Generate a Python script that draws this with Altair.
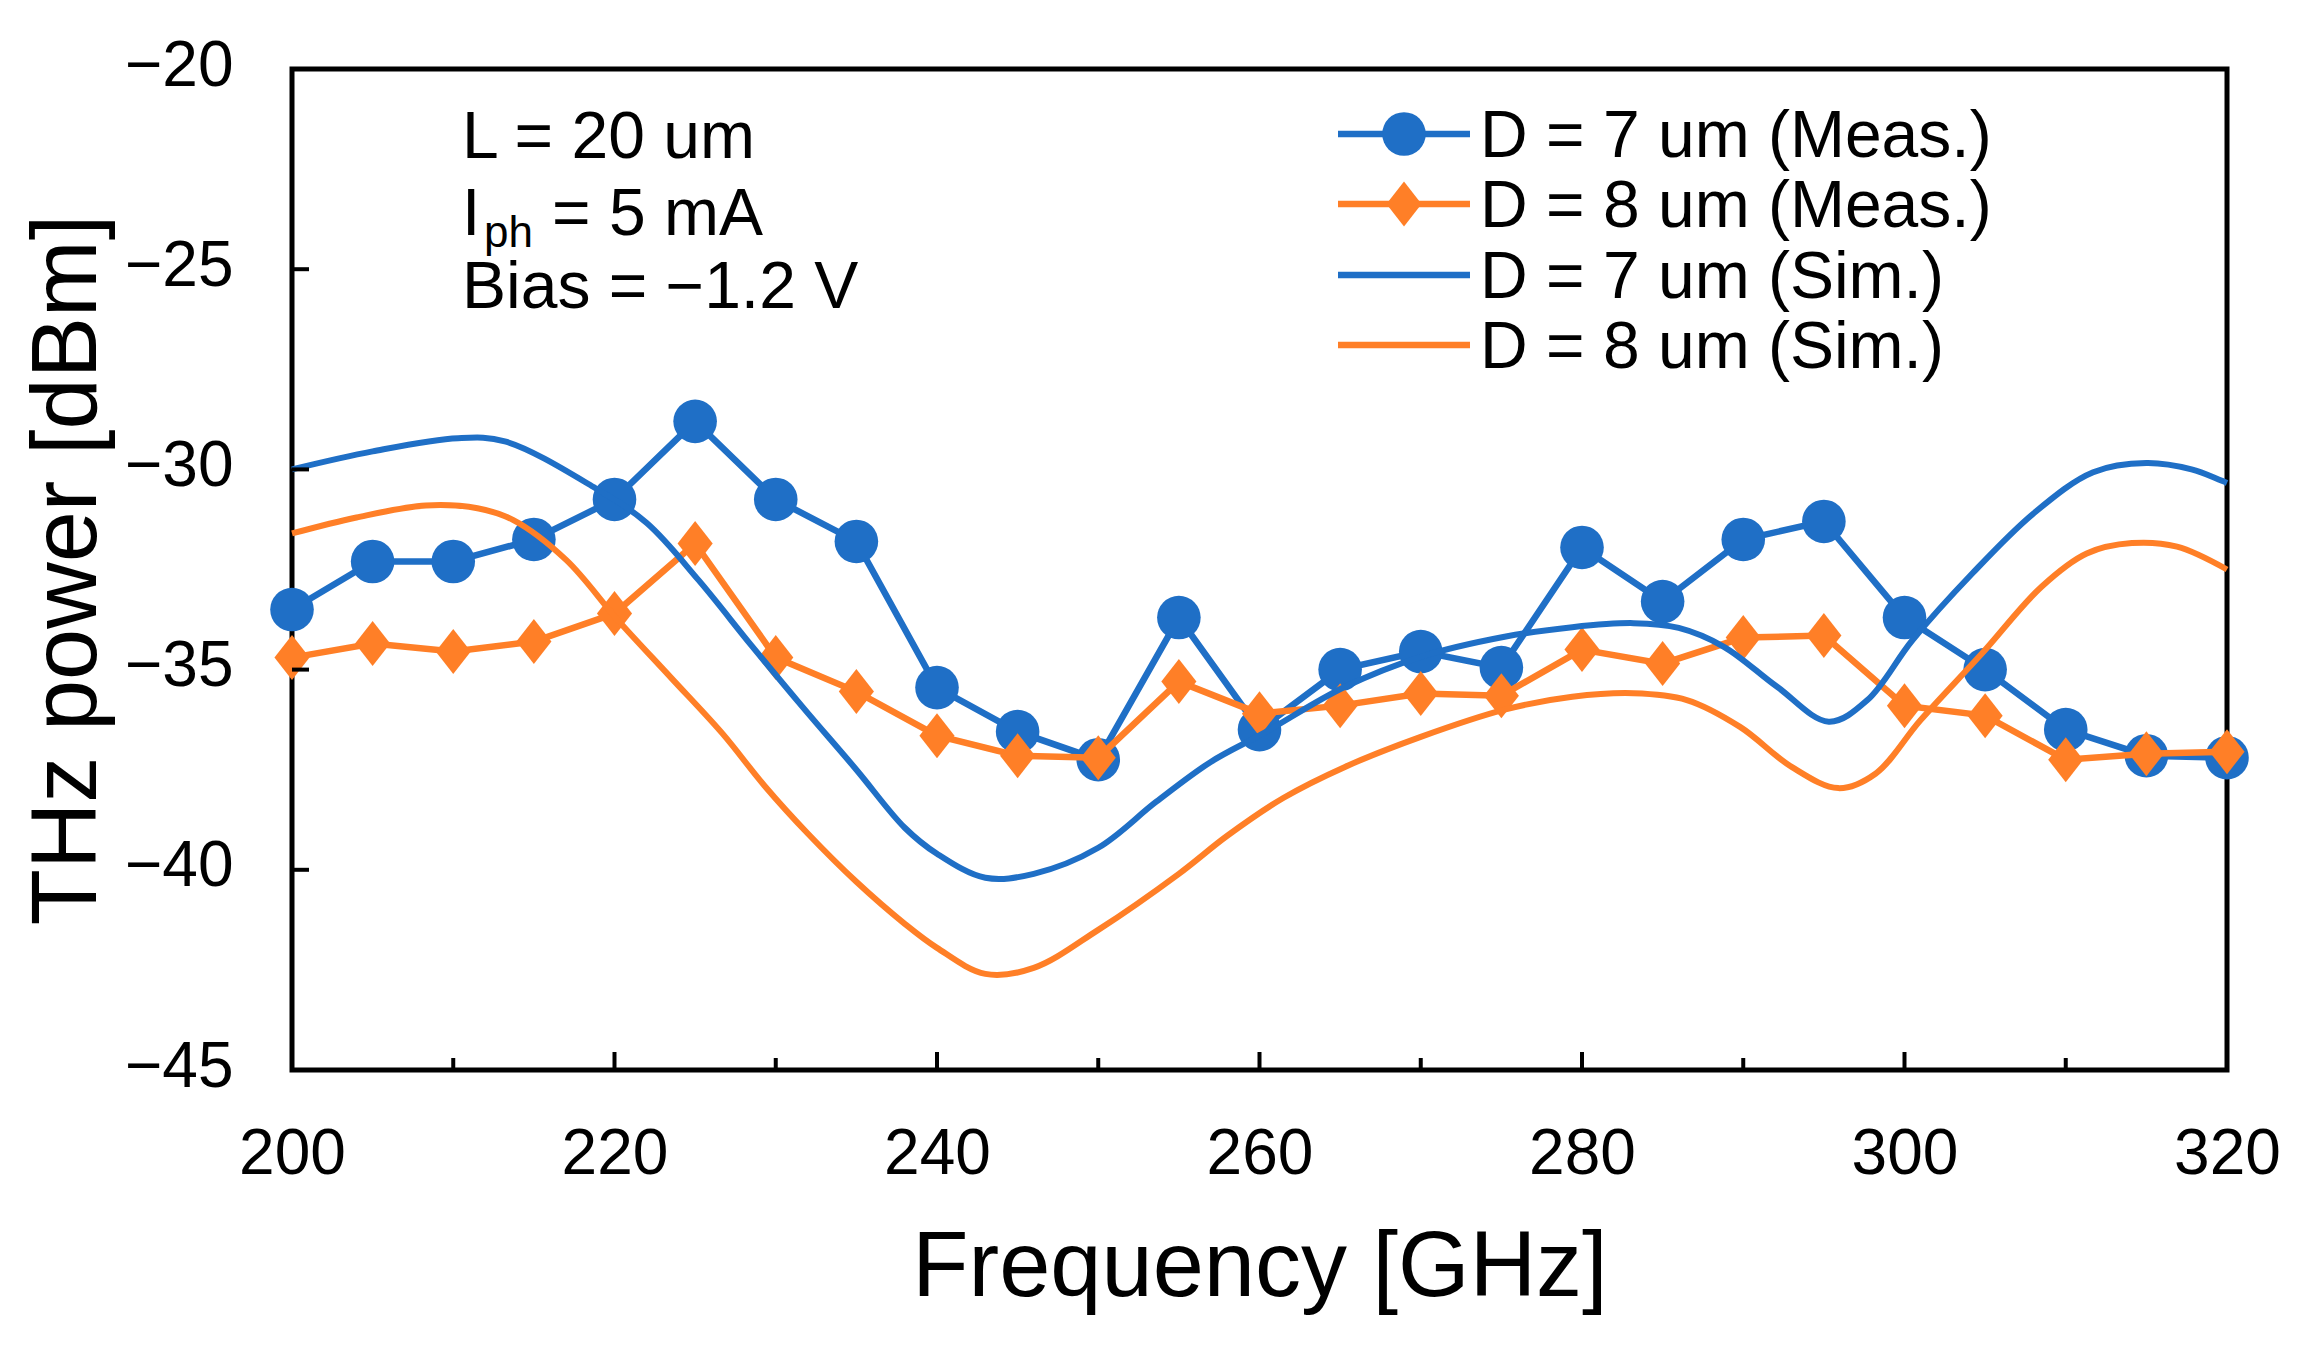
import altair as alt
import pandas as pd

# ---------------- data ----------------
freq_meas = [200, 205, 210, 215, 220, 225, 230, 235, 240, 245, 250, 255, 260,
             265, 270, 275, 280, 285, 290, 295, 300, 305, 310, 315, 320]
meas_d7 = [-33.5, -32.3, -32.3, -31.75, -30.75, -28.8, -30.75, -31.8, -35.45, -36.55,
           -37.25, -33.7, -36.5, -35.0, -34.55, -34.95, -31.95, -33.3, -31.75, -31.3,
           -33.7, -35.0, -36.5, -37.15, -37.2]
meas_d8 = [-34.7, -34.35, -34.55, -34.3, -33.6, -31.85, -34.7, -35.55, -36.65, -37.15,
           -37.2, -35.3, -36.1, -35.9, -35.6, -35.65, -34.5, -34.85, -34.2, -34.15,
           -35.9, -36.15, -37.25, -37.1, -37.05]

sim7_f = [200, 205, 210.3, 213.2, 218.7, 222, 225.2, 228.5, 231.7, 235, 238, 240,
          243, 246, 250, 253.6, 257, 260.2, 265.3, 270, 275.2, 279.4, 283.2, 286,
          288.8, 292.1, 295.3, 297.7, 300.5, 304.2, 308, 311.7, 315, 317.8, 320]
sim7_v = [-30.0, -29.55, -29.22, -29.3, -30.44, -31.34, -32.76, -34.4, -35.95, -37.5,
          -38.95, -39.6, -40.2, -40.1, -39.45, -38.3, -37.3, -36.6, -35.43, -34.68,
          -34.18, -33.94, -33.84, -33.96, -34.43, -35.43, -36.3, -35.76, -34.26, -32.6,
          -31.1, -30.07, -29.84, -30.0, -30.34]

sim8_f = [200, 204, 208.3, 211.5, 213.7, 217, 220.2, 223.5, 226.7, 229.3, 232, 235,
          238, 240, 243, 246, 250, 255, 258, 261.5, 265.3, 270, 275.2, 279.4, 283.2,
          286.5, 289.8, 293, 295.9, 298.2, 301, 304.8, 308.5, 311.3, 314.1, 316.9, 320]
sim8_v = [-31.6, -31.2, -30.9, -30.97, -31.26, -32.26, -33.76, -35.2, -36.6, -37.9,
          -39.1, -40.3, -41.35, -41.95, -42.6, -42.45, -41.5, -40.1, -39.15, -38.2,
          -37.43, -36.68, -36.0, -35.68, -35.59, -35.76, -36.43, -37.43, -37.96, -37.6,
          -36.26, -34.6, -32.93, -32.1, -31.84, -31.93, -32.5]

x_label_ticks = [200, 220, 240, 260, 280, 300, 320]
x_major_inner = [220, 240, 260, 280, 300]
x_minor_inner = [210, 230, 250, 270, 290, 310]
y_label_ticks = [-45, -40, -35, -30, -25, -20]
y_inner_ticks = [-40, -35, -30, -25]

legend_labels = ["D = 7 um (Meas.)", "D = 8 um (Meas.)", "D = 7 um (Sim.)", "D = 8 um (Sim.)"]
note_lines = ["L = 20 um", "I", "ph", "= 5 mA", "Bias = \u22121.2 V"]

# ---------------- style ----------------
BLUE = "#1F6FC6"
ORANGE = "#FF7F27"
FONT = "Liberation Sans"
W, H = 1935, 1001
DIAMOND = "M0,-1L0.78,0L0,1L-0.78,0Z"
CIRCLE_SIZE = 1900
DIAMOND_SIZE = 2025
TXT = 66

xscale = alt.Scale(domain=[200, 320], nice=False, zero=False)
yscale = alt.Scale(domain=[-45, -20], nice=False, zero=False)

m7 = pd.DataFrame({"f": freq_meas, "v": meas_d7})
m8 = pd.DataFrame({"f": freq_meas, "v": meas_d8})
s7 = pd.DataFrame({"f": sim7_f, "v": sim7_v})
s8 = pd.DataFrame({"f": sim8_f, "v": sim8_v})

x_axis = alt.Axis(values=x_label_ticks, format="d", labelFont=FONT, labelFontSize=64,
                  labelColor="black", labelPadding=103, labelBaseline="alphabetic",
                  ticks=False, tickSize=0, domain=False, grid=False,
                  title="Frequency [GHz]", titleFont=FONT, titleFontSize=92,
                  titleFontWeight="normal", titleColor="black", titleBaseline="alphabetic",
                  titleX=W / 2, titleY=225, titleAlign="center", labelFlush=False)
y_axis = alt.Axis(values=y_label_ticks, format="d", labelFont=FONT, labelFontSize=64,
                  labelColor="black", labelPadding=59, labelAlign="right",
                  labelBaseline="middle", labelOffset=-3,
                  labelExpr="replace(datum.label, '-', '\u2212')",
                  ticks=False, tickSize=0, domain=False, grid=False,
                  title="THz power [dBm]", titleFont=FONT, titleFontSize=92,
                  titleFontWeight="normal", titleColor="black", titleBaseline="alphabetic",
                  titleAngle=270, titleX=-197, titleY=H / 2, titleAlign="center",
                  labelFlush=False)

X = alt.X("f:Q", scale=xscale, axis=x_axis)
Y = alt.Y("v:Q", scale=yscale, axis=y_axis)

line_m7 = alt.Chart(m7).mark_line(color=BLUE, strokeWidth=6.5).encode(x=X, y=Y)
pts_m7 = alt.Chart(m7).mark_point(shape="circle", filled=True, opacity=1, color=BLUE,
                                  size=CIRCLE_SIZE).encode(x=X, y=Y)
line_m8 = alt.Chart(m8).mark_line(color=ORANGE, strokeWidth=6.5).encode(x=X, y=Y)
pts_m8 = alt.Chart(m8).mark_point(shape=DIAMOND, filled=True, opacity=1, color=ORANGE,
                                  size=DIAMOND_SIZE).encode(x=X, y=Y)
line_s7 = alt.Chart(s7).mark_line(color=BLUE, strokeWidth=6,
                                  interpolate="catmull-rom").encode(x=X, y=Y)
line_s8 = alt.Chart(s8).mark_line(color=ORANGE, strokeWidth=6,
                                  interpolate="catmull-rom").encode(x=X, y=Y)

# inward ticks
tick_x_major = alt.Chart(pd.DataFrame({"f": x_major_inner})).mark_rule(
    color="black", strokeWidth=4).encode(x=X, y=alt.value(H), y2=alt.value(H - 18))
tick_x_minor = alt.Chart(pd.DataFrame({"f": x_minor_inner})).mark_rule(
    color="black", strokeWidth=4).encode(x=X, y=alt.value(H), y2=alt.value(H - 12))
tick_y = alt.Chart(pd.DataFrame({"v": y_inner_ticks})).mark_rule(
    color="black", strokeWidth=4).encode(y=Y, x=alt.value(0), x2=alt.value(17))

# annotation text
def txt(s, x, y, size=TXT):
    return alt.Chart(pd.DataFrame({"a": [0]})).mark_text(
        font=FONT, fontSize=size, align="left", baseline="alphabetic", color="black"
    ).encode(x=alt.value(x), y=alt.value(y), text=alt.value(s))

notes = [
    txt(note_lines[0], 170, 89),
    txt(note_lines[1], 170, 166),
    txt(note_lines[2], 192, 178, 44),
    txt(note_lines[3], 260, 166),
    txt(note_lines[4], 170, 239),
]

# legend
LX1, LX2, LMX, LTX = 1046, 1178, 1112, 1188
rows = [65, 135, 206, 276]
colors = [BLUE, ORANGE, BLUE, ORANGE]
legend_layers = []
for i, (lab, c, ry) in enumerate(zip(legend_labels, colors, rows)):
    legend_layers.append(
        alt.Chart(pd.DataFrame({"a": [0]})).mark_rule(color=c, strokeWidth=6.5).encode(
            x=alt.value(LX1), x2=alt.value(LX2), y=alt.value(ry)))
    if i == 0:
        legend_layers.append(
            alt.Chart(pd.DataFrame({"a": [0]})).mark_point(
                shape="circle", filled=True, opacity=1, color=c, size=CIRCLE_SIZE
            ).encode(x=alt.value(LMX), y=alt.value(ry)))
    if i == 1:
        legend_layers.append(
            alt.Chart(pd.DataFrame({"a": [0]})).mark_point(
                shape=DIAMOND, filled=True, opacity=1, color=c, size=DIAMOND_SIZE
            ).encode(x=alt.value(LMX), y=alt.value(ry)))
    legend_layers.append(txt(lab, LTX, ry + 23))

chart = alt.layer(
    line_m7, pts_m7, line_m8, pts_m8, line_s7, line_s8,
    tick_x_major, tick_x_minor, tick_y,
    *notes, *legend_layers
).properties(
    width=W, height=H,
    autosize=alt.AutoSizeParams(type="none"),
    padding={"left": 284, "top": 61, "right": 70, "bottom": 270},
    background="white",
).configure_view(
    stroke="black", strokeWidth=5
)

chart.save("out.html", embed_options={"renderer": "svg", "actions": False})
